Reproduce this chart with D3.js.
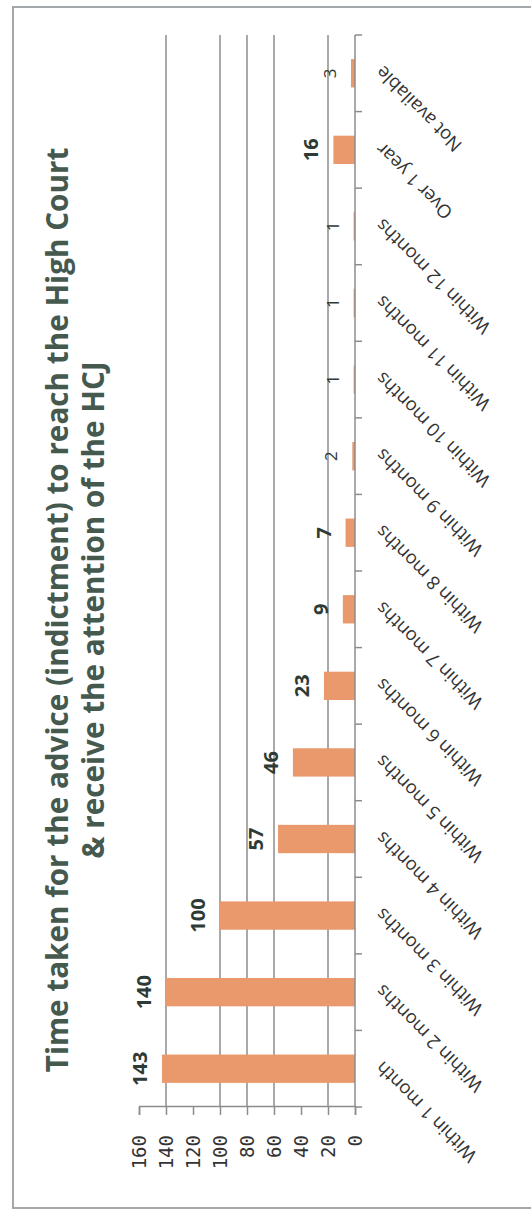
<!DOCTYPE html>
<html>
<head>
<meta charset="utf-8">
<script src="https://d3js.org/d3.v7.min.js"></script>
<style>
  html, body { margin: 0; padding: 0; background: #fff; }
  svg { display: block; }
</style>
</head>
<body>
<svg width="531" height="1211"></svg>
<script>
"use strict";

// data
const categories = ["Within 1 month", "Within 2 months", "Within 3 months", "Within 4 months",
    "Within 5 months", "Within 6 months", "Within 7 months", "Within 8 months",
    "Within 9 months", "Within 10 months", "Within 11 months", "Within 12 months",
    "Over 1 year", "Not available"];
const values = [143, 140, 100, 57, 46, 23, 9, 7, 2, 1, 1, 1, 16, 3];
const yTicks = [0, 20, 40, 60, 80, 100, 120, 140, 160];
const gridValues = [20, 60, 80, 100, 140];
const titleLines = ["Time taken for the advice (indictment) to reach the High Court",
    "& receive the attention of the HCJ"];

const svgW = 531, svgH = 1211;
// chart is drawn in an unrotated frame (W x H) and then turned -90deg
const W = svgH, H = svgW;
const plot = { left: 104, right: 1176, top: 139, bottom: 355 },
      titleLineGap = 36,
      titleFirstBase = 68,
      titleTargetWidth = 925,
      titleCenter = W - 610;

let svg = d3.select("body svg");

// outer frame
svg.append("rect")
    .attr("x", 13).attr("y", 7)
    .attr("width", 540).attr("height", 1201)
    .attr("fill", "none")
    .attr("stroke", "#a3a8ab")
    .attr("stroke-width", 2);

let chart = svg.append("g")
    .attr("transform", `translate(0, ${svgH}) rotate(-90)`);

// scales
let scaleX = d3.scaleBand()
    .domain(categories)
    .range([plot.left, plot.right])
    .paddingInner(0.63)
    .paddingOuter(0.315);

let scaleY = d3.scaleLinear()
    .domain([0, 160])
    .range([plot.bottom, plot.top]);

// grid lines
chart.append("g")
    .attr("class", "grid")
    .selectAll("line")
    .data(gridValues)
    .enter()
    .append("line")
    .attr("x1", plot.left)
    .attr("x2", plot.right)
    .attr("y1", d => scaleY(d))
    .attr("y2", d => scaleY(d))
    .attr("stroke", "#8c8c8c")
    .attr("stroke-width", 1.5);

// y axis
let yAxis = chart.append("g")
    .attr("class", "y_axis")
    .attr("transform", `translate(${plot.left}, 0)`)
    .call(d3.axisLeft(scaleY).tickValues(yTicks).tickSize(8).tickPadding(20));

yAxis.select(".domain").attr("stroke", "#8c8c8c").attr("stroke-width", 1.5);
yAxis.selectAll(".tick line").attr("stroke", "#8c8c8c").attr("stroke-width", 1.5);
yAxis.selectAll(".tick text")
    .attr("fill", "#333")
    .style("font-family", "'DejaVu Sans Mono', 'Liberation Mono', monospace")
    .style("font-size", "19px");

// bars
chart.append("g")
    .attr("class", "bars")
    .selectAll("rect")
    .data(values)
    .enter()
    .append("rect")
    .attr("x", (d, i) => scaleX(categories[i]))
    .attr("y", d => scaleY(d))
    .attr("width", scaleX.bandwidth())
    .attr("height", d => scaleY(0) - scaleY(d))
    .attr("fill", "#e9996b");

// x axis (category), ticks between categories
let xAxis = chart.append("g").attr("class", "x_axis");
xAxis.append("line")
    .attr("x1", plot.left).attr("x2", plot.right)
    .attr("y1", scaleY(0)).attr("y2", scaleY(0))
    .attr("stroke", "#8c8c8c")
    .attr("stroke-width", 1.5);

let edges = categories.map(c => scaleX(c) - scaleX.step() * scaleX.paddingInner() / 2);
edges.push(plot.right);
xAxis.selectAll("line.tick")
    .data(edges)
    .enter()
    .append("line")
    .attr("class", "tick")
    .attr("x1", d => d).attr("x2", d => d)
    .attr("y1", scaleY(0)).attr("y2", scaleY(0) + 7)
    .attr("stroke", "#8c8c8c")
    .attr("stroke-width", 1.5);

xAxis.selectAll("text")
    .data(categories)
    .enter()
    .append("text")
    .text(d => d)
    .attr("text-anchor", "end")
    .attr("dy", "0.35em")
    .attr("transform", d => `translate(${scaleX(d) + scaleX.bandwidth() / 2 + 4}, ${scaleY(0) + 24}) rotate(-45)`)
    .attr("fill", "#333")
    .style("font-family", "'Open Sans', sans-serif")
    .style("font-size", "18.5px");

// value labels
chart.append("g")
    .attr("class", "labels")
    .selectAll("text")
    .data(values)
    .enter()
    .append("text")
    .text(d => d)
    .attr("x", (d, i) => scaleX(categories[i]) + scaleX.bandwidth() / 2)
    .attr("y", d => scaleY(d) - 15)
    .attr("text-anchor", "middle")
    .attr("fill", "#2e3a35")
    .style("font-family", "'Open Sans', sans-serif")
    .style("font-weight", d => d < 5 ? "normal" : "bold")
    .style("font-size", d => d < 5 ? "17px" : "20px");

// title
let title = chart.append("g").attr("class", "title");
title.selectAll("text")
    .data(titleLines)
    .enter()
    .append("text")
    .text(d => d)
    .attr("x", titleCenter)
    .attr("y", (d, i) => titleFirstBase + i * titleLineGap)
    .attr("text-anchor", "middle")
    .attr("fill", "#45594f")
    .style("font-family", "'Open Sans', sans-serif")
    .style("font-weight", "bold")
    .style("font-size", "28px");

let titleLen = title.select("text").node().getComputedTextLength();
title.selectAll("text").style("font-size", (28 * titleTargetWidth / titleLen) + "px");
</script>
</body>
</html>
